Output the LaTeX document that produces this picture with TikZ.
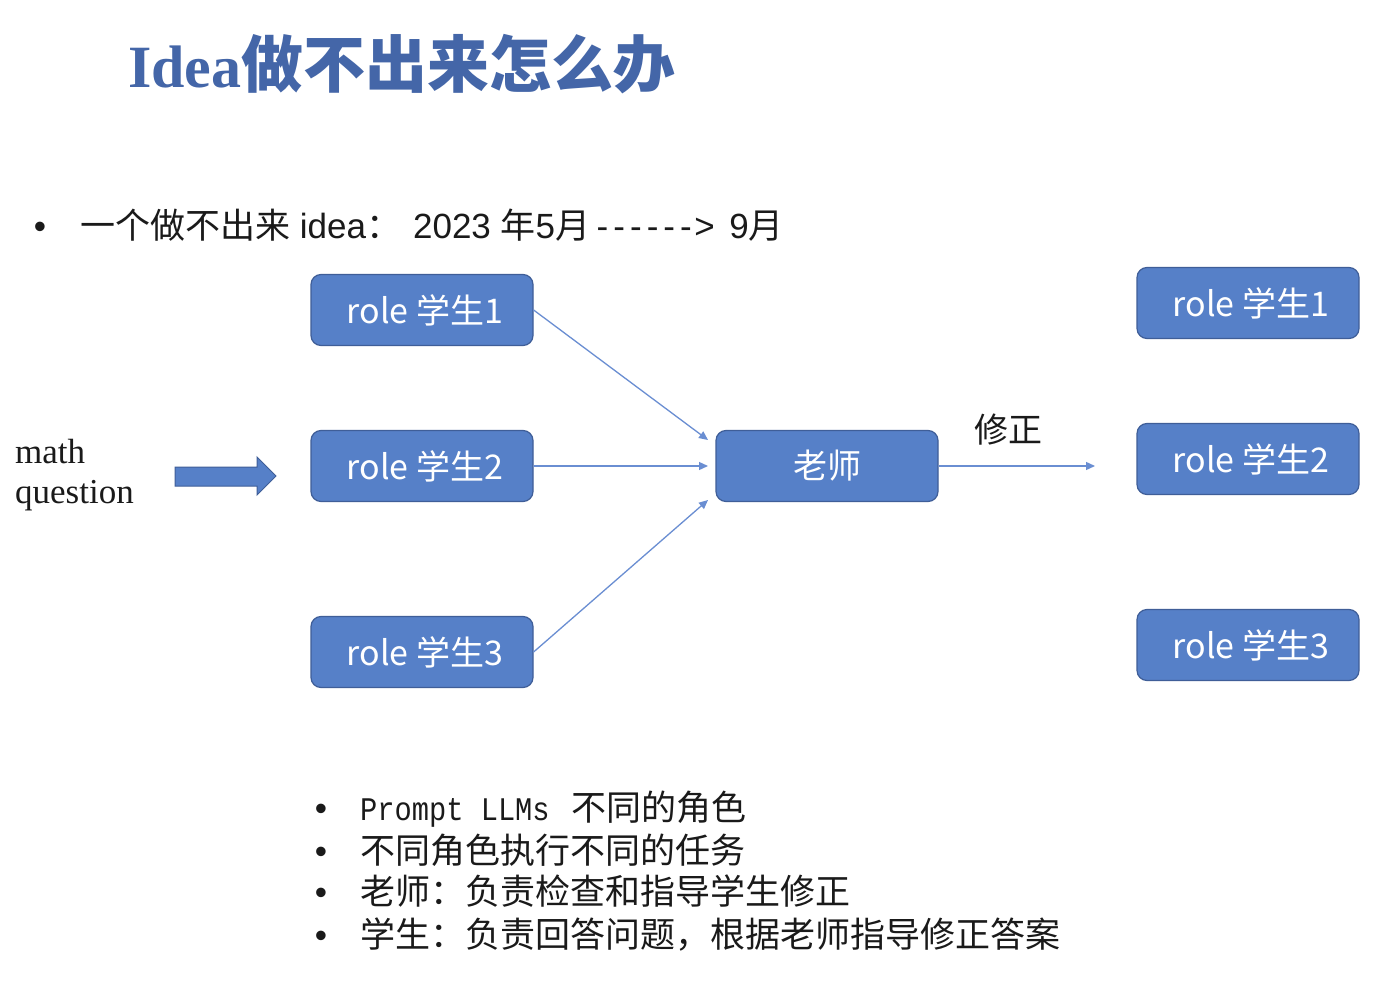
\documentclass[tikz,border=0pt]{standalone}
\usepackage{fontspec}
\setmainfont{Liberation Sans}
\newfontfamily\cjk{Noto Sans CJK SC}
\newfontfamily\serifrm{Liberation Serif}
\newfontfamily\monott[FakeStretch=0.87]{Liberation Mono}
\usetikzlibrary{arrows.meta}
\definecolor{boxblue}{HTML}{5680C8}
\definecolor{boxedge}{HTML}{3F5E98}
\definecolor{linkblue}{HTML}{6A8ED2}
\definecolor{titleblue}{HTML}{4466A8}
\definecolor{ink}{HTML}{1A1A1A}
\newcommand{\wdash}{\makebox[16.7pt]{-}}
\tikzset{
  rolebox/.style={draw=boxedge, line width=1.2pt, fill=boxblue, rounded corners=10pt,
    minimum width=222pt, minimum height=71pt, inner sep=0pt, text=white,
    font=\cjk\fontsize{34}{40}\selectfont},
  link/.style={draw=linkblue, line width=1.3pt, -{Triangle[width=8pt,length=9pt]}},
  plain/.style={inner sep=0pt, text=ink, anchor=base west},
  dot/.style={inner sep=0pt, text=ink, anchor=base, font=\fontsize{35}{40}\selectfont},
}
\begin{document}
\begin{tikzpicture}[x=1pt,y=-1pt]
\useasboundingbox[fill=white] (0,0) rectangle (1392,984);

% title
\node[inner sep=0pt, anchor=west, text=titleblue] (title) at (128,64)
  {{\serifrm\bfseries\fontsize{60}{60}\selectfont Idea}{\cjk\bfseries\fontsize{62}{62}\selectfont 做不出来怎么办}};

% top bullet line
\node[dot] (b0) at (40,239) {•};
\node[plain] (line0) at (80,239)
  {\fontsize{35}{40}\selectfont{\cjk 一个做不出来} idea{\cjk ：}\hspace{12pt}2023 {\cjk 年}5{\cjk 月}\hspace{4pt}\wdash\wdash\wdash\wdash\wdash\wdash>\hspace{5pt} 9{\cjk 月}};

% left column of roles
\node[rolebox] (s1) at (422,310) {\hspace{6pt}role 学生1};
\node[rolebox] (s2) at (422,466) {\hspace{6pt}role 学生2};
\node[rolebox] (s3) at (422,652) {\hspace{6pt}role 学生3};

% teacher
\node[rolebox] (t) at (827,466) {老师};

% right column of roles
\node[rolebox] (r1) at (1248,303) {\hspace{6pt}role 学生1};
\node[rolebox] (r2) at (1248,459) {\hspace{6pt}role 学生2};
\node[rolebox] (r3) at (1248,645) {\hspace{6pt}role 学生3};

% input
\node[inner sep=0pt, anchor=base west, text=ink, align=left,
  font=\serifrm\fontsize{35}{40}\selectfont] (q) at (15,503) {math\\question};
\fill[boxblue, draw=boxedge, line width=1pt]
  (175,467) -- (257,467) -- (257,457) -- (276,476) -- (257,495) -- (257,486) -- (175,486) -- cycle;

% connectors into the teacher
\coordinate (t1) at (708,440);
\coordinate (t2) at (708,466);
\coordinate (t3) at (708,500);
\coordinate (fix) at (1095,466);
\draw[link] (s1.east) -- (t1);
\draw[link] (s2.east) -- (t2);
\draw[link] (s3.east) -- (t3);
\draw[link] (t.east) -- (fix);
\node[inner sep=0pt, text=ink, font=\cjk\fontsize{34}{40}\selectfont] (fixlabel) at (1008,430) {修正};

% bottom notes
\node[dot] (b1) at (321,820) {•};
\node[dot] (b2) at (321,863) {•};
\node[dot] (b3) at (321,904) {•};
\node[dot] (b4) at (321,947) {•};
\node[plain, font=\cjk\fontsize{35}{40}\selectfont] (n1) at (360,820) {{\monott\fontsize{33}{40}\selectfont Prompt LLMs}\hspace{22pt}不同的角色};
\node[plain, font=\cjk\fontsize{35}{40}\selectfont] (n2) at (360,863) {不同角色执行不同的任务};
\node[plain, font=\cjk\fontsize{35}{40}\selectfont] (n3) at (360,904) {老师：负责检查和指导学生修正};
\node[plain, font=\cjk\fontsize{35}{40}\selectfont] (n4) at (360,947) {学生：负责回答问题，根据老师指导修正答案};
\end{tikzpicture}
\end{document}
